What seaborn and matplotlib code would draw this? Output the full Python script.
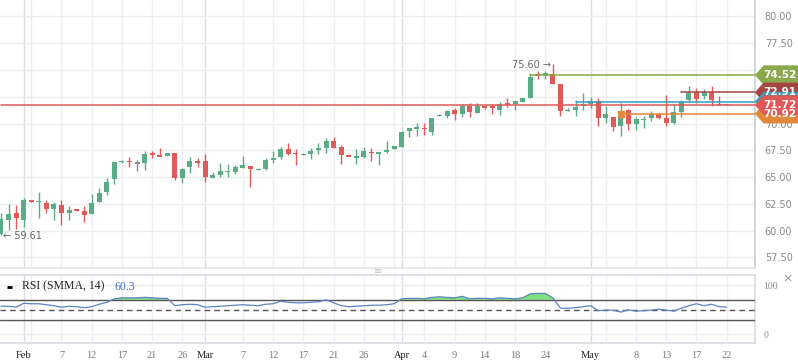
import numpy as np
import pandas as pd
import matplotlib
matplotlib.use("Agg")
import matplotlib.pyplot as plt
import seaborn as sns
from matplotlib.patches import Polygon
from matplotlib.transforms import blended_transform_factory

# ---- data (one candle per trading session) ----
opens = [59.65, 60.98, 61.64, 60.98, 62.80, 62.70, 62.56, 62.00, 62.40, 61.60,
         62.00, 61.80, 61.55, 62.67, 63.57, 64.80, 66.45, 66.50, 66.30, 66.35,
         67.20, 67.00, 66.95, 67.28, 64.93, 65.97, 66.52, 66.52, 64.93, 65.19,
         65.50, 65.47, 65.87, 66.03, 65.70, 65.75, 66.65, 66.90, 67.62, 67.20,
         67.10, 67.15, 67.55, 67.74, 68.36, 67.80, 66.99, 66.85, 66.90, 67.30,
         67.20, 67.37, 67.65, 67.80, 69.33, 69.55, 69.55, 69.23, 70.70, 70.73,
         71.26, 70.89, 71.66, 71.00, 71.63, 71.55, 71.26, 71.85, 71.82, 72.00,
         72.36, 74.55, 74.47, 74.63, 73.69, 71.20, 71.26, 71.65, 71.80, 72.13,
         70.54, 70.64, 69.80, 71.26, 69.98, 70.33, 70.54, 70.92, 70.54, 70.07,
         71.04, 72.20, 72.97, 72.57, 72.97, 71.78, 71.82]
highs = [61.64, 62.50, 62.40, 63.00, 62.90, 63.60, 62.85, 62.70, 62.85, 62.30,
         62.00, 62.30, 63.40, 63.95, 64.88, 66.40, 66.60, 66.90, 66.60, 67.40,
         67.40, 67.70, 67.25, 67.28, 65.80, 66.87, 66.75, 67.15, 65.43, 66.33,
         66.20, 66.15, 66.96, 66.03, 65.80, 66.80, 67.45, 67.83, 68.20, 67.60,
         67.20, 67.68, 68.18, 68.67, 68.74, 67.99, 67.15, 67.60, 67.78, 67.68,
         67.32, 68.36, 67.90, 69.30, 69.58, 70.05, 70.05, 70.55, 70.85, 71.29,
         71.48, 71.80, 71.90, 71.90, 71.63, 71.73, 72.04, 72.40, 72.10, 72.40,
         74.69, 74.90, 74.90, 75.60, 73.69, 71.45, 72.20, 72.82, 72.45, 72.35,
         71.63, 70.64, 71.90, 71.32, 70.58, 70.70, 71.20, 71.00, 72.66, 71.82,
         72.20, 73.50, 73.29, 73.20, 73.50, 72.57, 71.82]
lows = [59.61, 60.05, 60.10, 60.35, 62.65, 61.20, 61.65, 61.00, 60.50, 61.00,
        61.85, 60.80, 61.55, 62.67, 63.30, 64.35, 66.30, 65.90, 65.60, 65.70,
        66.75, 66.95, 66.95, 64.75, 64.47, 65.40, 65.90, 64.56, 64.93, 65.03,
        65.03, 65.25, 65.80, 64.04, 65.65, 65.65, 66.33, 66.68, 67.06, 66.12,
        67.05, 66.68, 67.15, 67.21, 67.68, 66.24, 66.95, 66.20, 66.75, 66.50,
        66.12, 67.20, 67.65, 67.80, 68.74, 68.83, 68.90, 68.92, 70.70, 70.54,
        70.33, 70.60, 70.60, 71.00, 71.35, 70.89, 70.80, 71.57, 71.26, 72.00,
        72.36, 74.13, 74.20, 73.69, 70.70, 71.20, 70.73, 71.26, 71.42, 69.80,
        70.07, 69.30, 68.86, 69.39, 69.39, 69.55, 70.26, 70.40, 69.77, 70.00,
        70.58, 72.00, 71.94, 72.32, 71.66, 71.75, 71.72]
closes = [61.07, 61.55, 61.17, 62.85, 62.75, 62.75, 62.00, 62.45, 61.65, 61.90,
          61.85, 61.45, 62.55, 63.48, 64.50, 66.40, 66.50, 66.45, 66.30, 67.15,
          67.10, 66.95, 67.25, 64.93, 65.72, 66.50, 66.33, 65.03, 65.19, 65.56,
          65.55, 65.93, 66.12, 65.78, 65.75, 66.56, 66.72, 67.62, 67.15, 67.15,
          67.15, 67.43, 67.74, 68.36, 67.74, 67.06, 66.95, 66.90, 67.43, 67.25,
          67.32, 67.52, 67.90, 69.23, 69.58, 69.60, 69.50, 70.51, 70.75, 71.17,
          70.89, 71.66, 71.10, 71.66, 71.45, 71.50, 71.82, 71.80, 72.10, 72.35,
          74.35, 74.50, 74.69, 73.69, 71.20, 71.25, 71.57, 71.80, 72.13, 70.49,
          70.92, 69.70, 71.20, 69.98, 70.42, 70.38, 70.92, 70.54, 70.07, 71.04,
          71.98, 72.85, 72.32, 72.92, 72.20, 71.75, 71.72]
rsi = [57, 57, 55, 63, 62, 62, 60, 58, 55, 57,
       56, 54, 56, 61, 65, 72, 74, 74, 74, 75,
       74, 73, 73, 58, 60, 61, 60, 55, 56, 57,
       58, 59, 60, 59, 58, 61, 62, 67, 65, 64,
       64, 65, 66, 70, 64, 58, 56, 57, 58, 59,
       59, 60, 62, 72, 73, 73, 72, 75, 76, 75,
       74, 77, 72, 73, 73, 72, 74, 73, 72, 74,
       82, 83, 83, 74, 53, 53, 54, 56, 58, 48,
       49, 49, 45, 50, 47, 48, 49, 51, 49, 47,
       53, 58, 62, 58, 61, 56, 55]

tick_idx = [3, 8, 12, 16, 20, 24, 27, 32, 36, 40, 44, 48, 53, 56, 60, 64, 68, 72,
            78, 84, 88, 92, 96]
tick_labels = ["Feb", "7", "12", "17", "21", "26", "Mar", "7", "12", "17", "21", "26",
               "Apr", "4", "9", "14", "18", "24", "May", "8", "13", "17", "22"]
month_idx = [3, 27, 53, 78]
grid_idx = [4, 8, 12, 16, 20, 24, 32, 36, 40, 44, 48, 52, 56, 60, 64, 68, 72,
            80, 84, 88, 92, 96]

# horizontal levels: value, label (teal one is hidden under the others), colour, first candle
level_vals = [74.52, 72.91, 72.05, 70.92, 71.72]
level_text = ["74.52", "72.91", "", "70.92", "71.72"]
level_cols = ["#8aa84c", "#a84444", "#3a9bb5", "#e0883c", "#e05858"]
level_from = [70, 90, 76, 82, 0]

price_ticks = [57.5, 60.0, 62.5, 65.0, 67.5, 70.0, 72.5, 75.0, 77.5, 80.0]
rsi_levels = [30, 50, 70]
rsi_now = "60.3"

GREEN = "#5aab86"
RED = "#e05a57"
GRAY = "#8c8c8c"
GRID = "#eceef1"
GRID_M = "#dadde2"
TAG_H = 0.85

df = pd.DataFrame({"open": opens, "high": highs, "low": lows, "close": closes, "rsi": rsi})
df["i"] = np.arange(len(df))
df["col"] = np.where(df.close > df.open, GREEN, np.where(df.close < df.open, RED, GRAY))

sns.set_theme(style="white")
plt.rcParams["font.family"] = ["DejaVu Sans"]

W, H = 798, 363
fig = plt.figure(figsize=(W / 100, H / 100), dpi=100)
ax = fig.add_axes([0, (H - 268) / H, 755 / W, 268 / H])
ax2 = fig.add_axes([0, 20 / H, 755 / W, 68 / H])
XL = (-0.13, 99.74)

# =====================================================
# main price panel
# =====================================================
for a in (ax, ax2):
    for g in grid_idx:
        a.axvline(g, color=GRID, lw=1, zorder=0)
    for g in month_idx:
        a.axvline(g, color=GRID_M, lw=1, zorder=0)

ax.vlines(df.i, df.low, df.high, colors=df.col, lw=1, zorder=3)
body = (df.close - df.open).abs()
mid = (df.close + df.open) / 2
bh = np.maximum(body, 0.13)
bb = np.where(body < 0.13, mid - 0.065, np.minimum(df.open, df.close))
ax.bar(df.i, bh, bottom=bb, width=0.66, color=df.col, lw=0, zorder=4)

ax.set_xlim(XL)
ax.set_ylim(56.5, 81.54)
ax.yaxis.tick_right()
ax.set_yticks(price_ticks)
# tick labels sitting under a price tag are hidden, as in the original
ax.set_yticklabels([f"{v:.2f}" if min(abs(v - l) for l in level_vals) > TAG_H else ""
                    for v in price_ticks])
ax.tick_params(axis="y", length=0, pad=7, labelsize=7, labelcolor="#8a8a8a")
ax.set_xticks([])
ax.grid(axis="y", color=GRID, lw=1)
for s in ["left", "top"]:
    ax.spines[s].set_visible(False)
ax.spines["right"].set_color("#cfd2d6")
ax.spines["bottom"].set_color("#e3e5e8")

trans = blended_transform_factory(ax.transAxes, ax.transData)
for v, t, c, f in zip(level_vals, level_text, level_cols, level_from):
    ax.plot([f, XL[1]], [v, v], color=c, lw=1.1, zorder=5)
    poly = Polygon([(1.001, v), (1.012, v + TAG_H), (1.07, v + TAG_H),
                    (1.07, v - TAG_H), (1.012, v - TAG_H)],
                   closed=True, transform=trans, color=c, clip_on=False, zorder=10)
    ax.add_patch(poly)
    if t:
        ax.text(1.0325, v, t, transform=trans, color="white", fontsize=7.5,
                fontweight="bold", ha="center", va="center", clip_on=False, zorder=11)
ax.plot(level_from[3], level_vals[3], marker="s", ms=5, color=level_cols[3], zorder=6)

lo_i = int(df.low.idxmin())
hi_i = int(df.high.idxmax())
ax.text(lo_i + 0.25, df.low[lo_i] - 0.1, "\u2190 %.2f" % df.low[lo_i], fontsize=7,
        color="#666666", ha="left", va="center", zorder=6)
ax.text(hi_i - 0.3, df.high[hi_i] - 0.15, "%.2f \u2192" % df.high[hi_i], fontsize=7,
        color="#666666", ha="right", va="center", zorder=6)

# =====================================================
# RSI panel
# =====================================================
ax2.fill_between(df.i, df.rsi, 70, where=df.rsi > 70, interpolate=True,
                 color="#7fe07f", lw=0, zorder=2)
sns.lineplot(data=df, x="i", y="rsi", ax=ax2, color="#5b84c4", lw=0.9, zorder=4)
for lv in rsi_levels:
    ax2.axhline(lv, color="#555555", lw=1, zorder=3,
                ls=(0, (4, 3)) if lv == 50 else "-")
ax2.set_xlim(XL)
ax2.set_ylim(-17.6, 120.3)
ax2.yaxis.tick_right()
ax2.set_yticks([0, 100])
ax2.set_yticklabels(["0", "100"], family="Liberation Serif")
ax2.tick_params(axis="y", length=0, pad=6, labelsize=7, labelcolor="#8a8a8a")
ax2.grid(axis="y", color=GRID, lw=1)
ax2.set_xlabel("")
ax2.set_ylabel("")
ax2.set_xticks(tick_idx)
ax2.set_xticklabels(tick_labels, family="Liberation Serif")
ax2.tick_params(axis="x", length=0, pad=6, labelsize=7.5, labelcolor="#7a7a7a")
for lab in ax2.get_xticklabels():
    if lab.get_text() in ("Feb", "Mar", "Apr", "May"):
        lab.set_color("#222222")
ax2.spines["left"].set_visible(False)
for s in ["top", "bottom", "right"]:
    ax2.spines[s].set_color("#dadde2")

ax2.plot([0.009, 0.016], [0.83, 0.83], transform=ax2.transAxes, color="black", lw=2,
         solid_capstyle="butt", clip_on=False)
ax2.text(0.029, 0.83, "RSI (SMMA, 14)", transform=ax2.transAxes, fontsize=8.5,
         family="Liberation Serif", color="#222222", va="center")
ax2.text(0.152, 0.83, rsi_now, transform=ax2.transAxes, fontsize=8.5,
         family="Liberation Serif", color="#3f72b8", va="center")

fig.text(378 / W, 1 - 271 / H, "\u2261", fontsize=7, color="#c4c4c4", ha="center", va="center")
fig.text(788 / W, 1 - 279 / H, "\u00d7", fontsize=9, color="#9a9a9a", ha="center", va="center")

fig.savefig("out.png", dpi=100)
